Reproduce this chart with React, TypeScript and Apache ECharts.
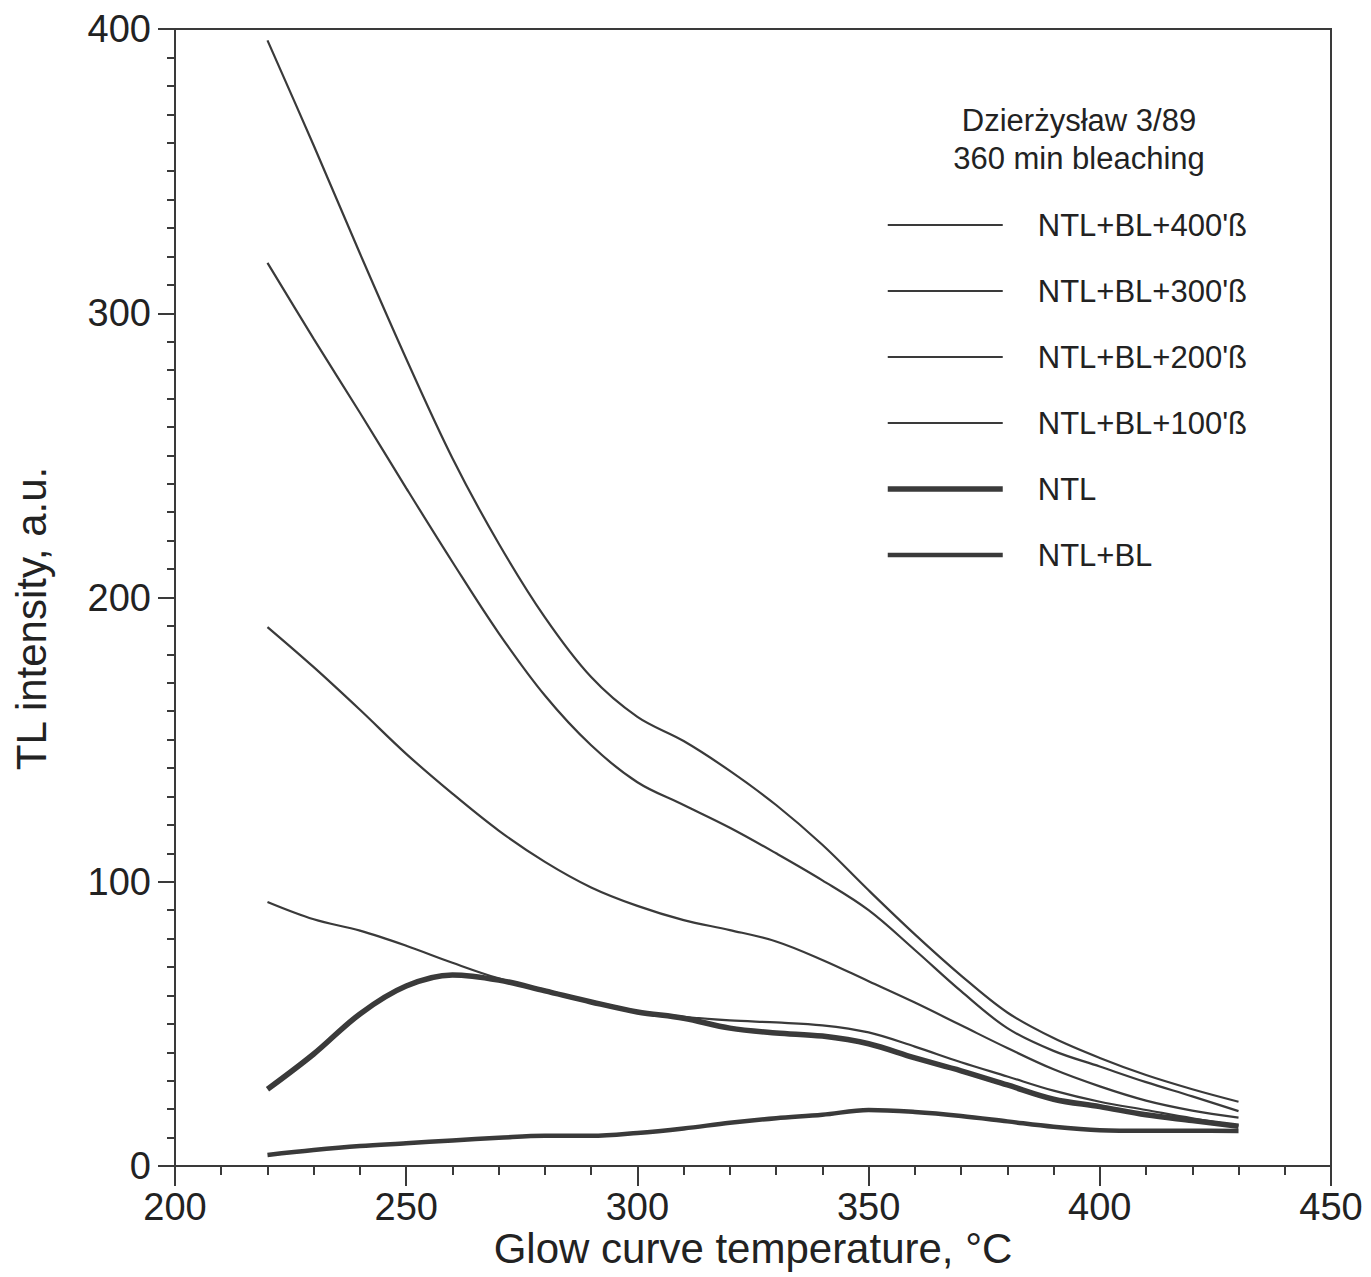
import React, { useEffect, useRef } from "react";
import * as echarts from "echarts";

const temperature = [220, 230, 240, 250, 260, 270, 280, 290, 300, 310, 320, 330, 340, 350, 360, 370, 380, 390, 400, 410, 420, 430];
const ntlBl400 = [396, 359, 321, 284, 249, 219, 193, 172, 158, 149.5, 139, 127, 113, 97, 81.5, 67, 54, 45, 38, 32, 27, 22.6];
const ntlBl300 = [317.7, 291, 265, 238.5, 212.5, 187.5, 165.5, 148, 135, 127, 119, 110, 100.5, 90, 76, 61.5, 48.5, 40.5, 35, 29.5, 24.5, 19.3];
const ntlBl200 = [189.6, 175.5, 160.5, 145, 131, 118, 107, 98, 91.5, 86.5, 83, 79, 72.5, 65, 57.5, 49.5, 41.5, 34, 28, 23, 19.5, 17];
const ntlBl100 = [92.9, 86.8, 82.8, 77.5, 71.5, 66, 62, 58, 54.5, 52.5, 51.2, 50.5, 49.5, 47, 42, 36.5, 31.5, 26.5, 22.6, 19.7, 16.8, 14.2];
const ntl = [27, 39.4, 53.5, 63.3, 67.2, 65.4, 61.6, 57.7, 54.2, 52, 48.5, 46.8, 45.7, 43, 38, 33.5, 28.5, 23.5, 20.9, 18, 16, 14];
const ntlBl = [3.9, 5.6, 7, 8, 9, 9.9, 10.6, 10.6, 11.6, 13.2, 15.2, 16.8, 18, 19.7, 19, 17.6, 15.7, 13.8, 12.6, 12.4, 12.4, 12.3];

const seriesDefs = [
  { name: "NTL+BL+400'ß", values: ntlBl400, width: 2.2 },
  { name: "NTL+BL+300'ß", values: ntlBl300, width: 2.2 },
  { name: "NTL+BL+200'ß", values: ntlBl200, width: 2.2 },
  { name: "NTL+BL+100'ß", values: ntlBl100, width: 2.2 },
  { name: "NTL", values: ntl, width: 5.5 },
  { name: "NTL+BL", values: ntlBl, width: 4.5 },
];

const INK = "#3a3a3a";
const FONT = "'Liberation Sans', Arial, sans-serif";

export default function App() {
  const ref = useRef<HTMLDivElement>(null);
  useEffect(() => {
    document.body.style.margin = "0";
    const chart = echarts.init(ref.current!, undefined, { renderer: "svg" });
    chart.setOption({
      animation: false,
      backgroundColor: "#ffffff",
      textStyle: { fontFamily: FONT, color: "#222" },
      grid: {
        left: 175,
        top: 29,
        right: 40,
        bottom: 111,
        outerBoundsMode: "none",
        containLabel: false,
        show: true,
        borderColor: INK,
        borderWidth: 2,
      },
      title: {
        text: "Dzierżysław 3/89\n360 min bleaching",
        left: 1074,
        top: 96,
        textAlign: "center",
        textStyle: { fontSize: 31, fontWeight: "normal", lineHeight: 38, color: "#222", fontFamily: FONT },
      },
      legend: {
        orient: "vertical",
        left: 885,
        top: 209,
        padding: 0,
        itemWidth: 115,
        itemHeight: 14,
        itemGap: 34,
        itemStyle: { opacity: 0 },
        lineStyle: { width: "inherit" },
        textStyle: { fontSize: 31, color: "#222", fontFamily: FONT, lineHeight: 32, padding: [0, 0, 0, 30] },
        data: seriesDefs.map((s) => ({ name: s.name, lineStyle: { width: s.width, color: INK } })),
      },
      xAxis: {
        type: "value",
        min: 200,
        max: 450,
        interval: 50,
        name: "Glow curve temperature, °C",
        nameLocation: "middle",
        nameGap: 61,
        nameMoveOverlap: false,
        nameTextStyle: { fontSize: 42, color: "#222", fontFamily: FONT, lineHeight: 42 },
        axisLine: { show: true, lineStyle: { color: INK, width: 2 } },
        axisTick: { show: true, length: 20, lineStyle: { color: INK, width: 2 } },
        minorTick: { show: true, splitNumber: 5, length: 9, lineStyle: { color: INK, width: 2 } },
        axisLabel: { fontSize: 38, color: "#222", margin: 22, fontFamily: FONT, lineHeight: 38 },
        splitLine: { show: false },
      },
      yAxis: {
        type: "value",
        min: 0,
        max: 400,
        interval: 100,
        name: "TL intensity, a.u.",
        nameLocation: "middle",
        nameGap: 123,
        nameMoveOverlap: false,
        nameRotate: 90,
        nameTextStyle: { fontSize: 42, color: "#222", fontFamily: FONT, padding: [0, 42, 0, 0] },
        axisLine: { show: true, lineStyle: { color: INK, width: 2 } },
        axisTick: { show: true, length: 17, lineStyle: { color: INK, width: 2 } },
        minorTick: { show: true, splitNumber: 10, length: 8, lineStyle: { color: INK, width: 2 } },
        axisLabel: { fontSize: 38, color: "#222", margin: 24, fontFamily: FONT },
        splitLine: { show: false },
      },
      series: seriesDefs.map((s) => ({
        name: s.name,
        type: "line",
        data: temperature.map((t, i) => [t, s.values[i]]),
        smooth: 0.35,
        symbol: "none",
        lineStyle: { color: INK, width: s.width },
        itemStyle: { color: INK },
      })),
    });
    return () => chart.dispose();
  }, []);
  return <div ref={ref} style={{ width: 1371, height: 1277 }} />;
}
